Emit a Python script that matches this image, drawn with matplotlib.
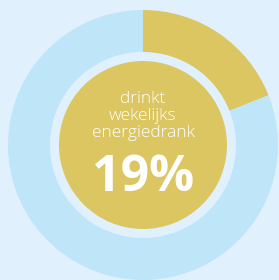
import matplotlib
matplotlib.use("Agg")
import matplotlib.pyplot as plt
from matplotlib.patches import Circle

# data
labels = ["drinkt wekelijks energiedrank", "overig"]
values = [19, 81]
caption = "drinkt\nwekelijks\nenergiedrank"
pct_text = "19%"

bg = "#e0f1fd"
ring_blue = "#bfe5f9"
yellow = "#dcc662"

fig = plt.figure(figsize=(2.79, 2.80), dpi=100)
fig.patch.set_facecolor(bg)
ax = fig.add_axes([0, 0, 1, 1])
ax.set_facecolor(bg)

cx, cy = 143, 135
ax.pie(values, colors=[yellow, ring_blue], radius=135, center=(cx, cy),
       startangle=90, counterclock=False,
       wedgeprops=dict(width=42, linewidth=0))
ax.add_patch(Circle((cx, cy), 84, facecolor=yellow, edgecolor="none"))

ax.text(cx, 164, caption, ha="center", va="center", color="white",
        fontsize=12.5, family="Open Sans", fontweight="light", linespacing=1.05)
ax.text(cx, 102, pct_text, ha="center", va="center", color="white",
        fontsize=36, fontweight="bold", family="Open Sans")

ax.set_xlim(0, 279)
ax.set_ylim(0, 280)
ax.set_aspect("equal")
ax.axis("off")

fig.savefig("out.png", dpi=100, facecolor=bg)
